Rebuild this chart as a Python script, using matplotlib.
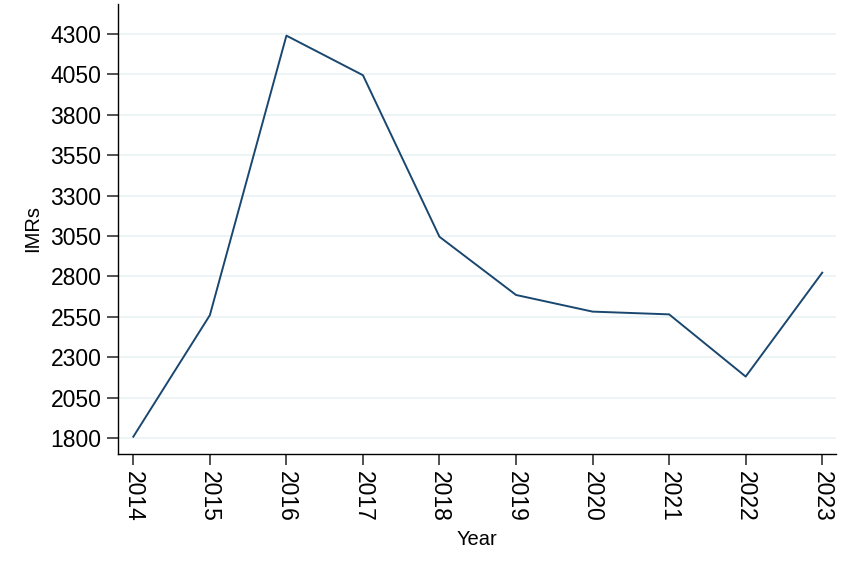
import matplotlib.pyplot as plt

# IMRs by year
years = [2014, 2015, 2016, 2017, 2018, 2019, 2020, 2021, 2022, 2023]
imrs = [1808, 2560, 4290, 4045, 3045, 2685, 2582, 2565, 2180, 2823]
yticks = [1800, 2050, 2300, 2550, 2800, 3050, 3300, 3550, 3800, 4050, 4300]

plt.rcParams['font.family'] = ['Liberation Sans', 'DejaVu Sans']

fig = plt.figure(figsize=(8.57, 5.65), dpi=100)
ax = fig.add_axes([0.1377, 0.1965, 0.8378, 0.7965])

ax.plot(years, imrs, color='#1a476f', linewidth=1.4)

ax.set_xlim(2013.8, 2023.18)
ax.set_ylim(1701, 4486)
ax.set_xticks(years)
ax.set_yticks(yticks)
ax.set_xticklabels([str(y) for y in years], rotation=270, fontsize=16.5)
ax.set_yticklabels([str(v) for v in yticks], fontsize=16.5)
ax.tick_params(axis='both', direction='out', length=8, width=1.2, color='#333333', pad=4)

ax.grid(True, axis='y', color='#eaf2f3', linewidth=1.2)
ax.set_axisbelow(True)
for s in ['top', 'right']:
    ax.spines[s].set_visible(False)
for s in ['left', 'bottom']:
    ax.spines[s].set_linewidth(1.0)
    ax.spines[s].set_color('black')

ax.set_xlabel('Year', fontsize=14.5, labelpad=6)
ax.set_ylabel('IMRs', fontsize=14.5, labelpad=6)

fig.savefig('out.png', dpi=100)
